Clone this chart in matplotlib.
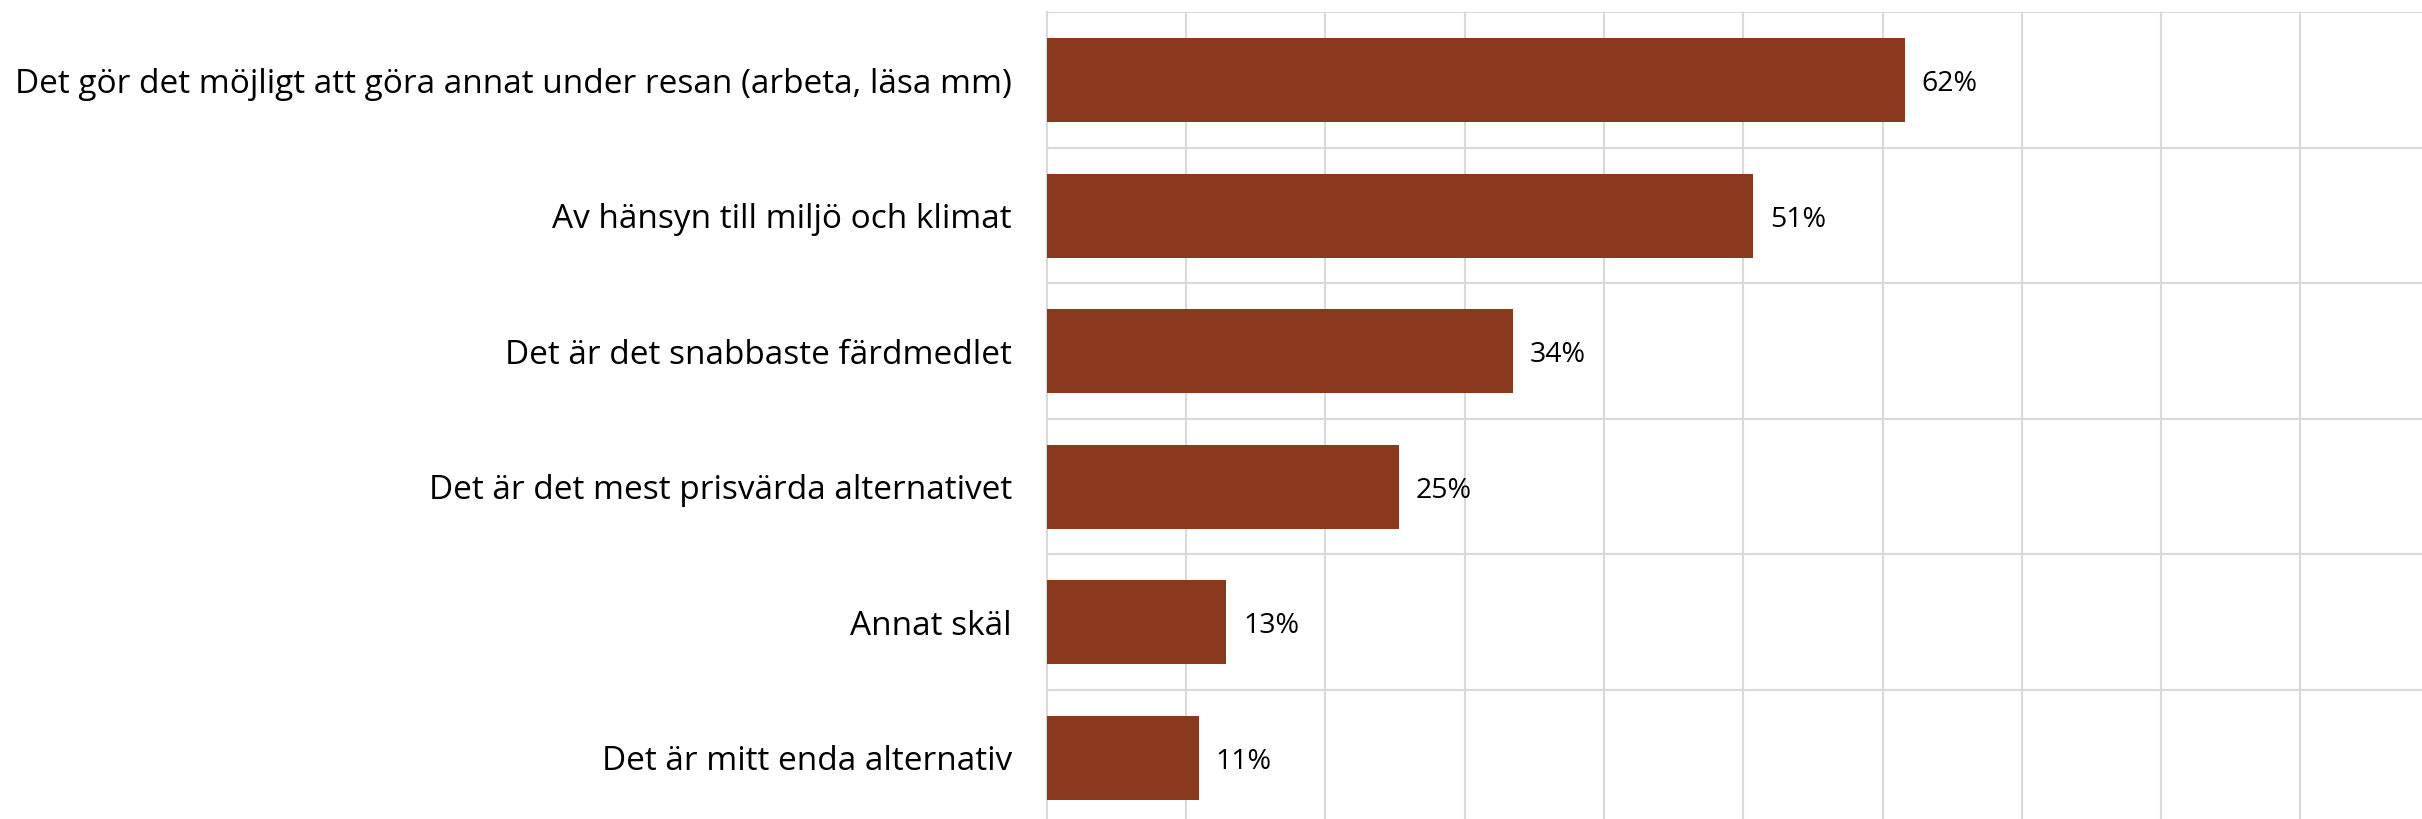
import numpy as np
from matplotlib import pyplot as plt

# Data
categories = [
    "Det gör det möjligt att göra annat under resan (arbeta, läsa mm)",
    "Av hänsyn till miljö och klimat",
    "Det är det snabbaste färdmedlet",
    "Det är det mest prisvärda alternativet",
    "Annat skäl",
    "Det är mitt enda alternativ",
]
values = [61.6, 50.7, 33.5, 25.3, 12.9, 10.9]
value_labels = ["62%", "51%", "34%", "25%", "13%", "11%"]

bar_color = "#8B391E"
grid_color = "#d9d9d9"

plt.rcParams['font.family'] = ['Open Sans', 'DejaVu Sans']

fig = plt.figure(figsize=(24.22, 8.19), dpi=100)
# axes runs slightly past the right and bottom edges, like the original crop
ax = fig.add_axes([0.4322, -0.0079, 0.5751, 0.9927])

y = np.arange(len(categories))
ax.barh(y, values, height=0.62, color=bar_color, zorder=3)

# value labels
for yi, v, lab in zip(y, values, value_labels):
    ax.text(v + 1.2, yi + 0.03, lab, va='center', ha='left', fontsize=20.5, color='black')

ax.set_xlim(0, 100)
ax.set_ylim(len(categories) - 0.5, -0.5)

ax.set_yticks(y)
ax.set_yticklabels(categories, fontsize=24)
ax.set_yticks(np.arange(-0.5, len(categories), 1.0), minor=True)
ax.set_xticks(np.arange(0, 101, 10))
ax.tick_params(axis='x', labelbottom=False, length=0)
ax.tick_params(axis='y', which='both', length=0, pad=25)

# grid
ax.grid(axis='x', which='major', color=grid_color, linewidth=1.5, zorder=0)
ax.grid(axis='y', which='minor', color=grid_color, linewidth=1.5, zorder=0)
ax.grid(axis='y', which='major', visible=False)

for s in ['top', 'bottom', 'right']:
    ax.spines[s].set_visible(False)
ax.spines['left'].set_color(grid_color)
ax.spines['left'].set_linewidth(1.5)

plt.savefig('out.png', dpi=100)
